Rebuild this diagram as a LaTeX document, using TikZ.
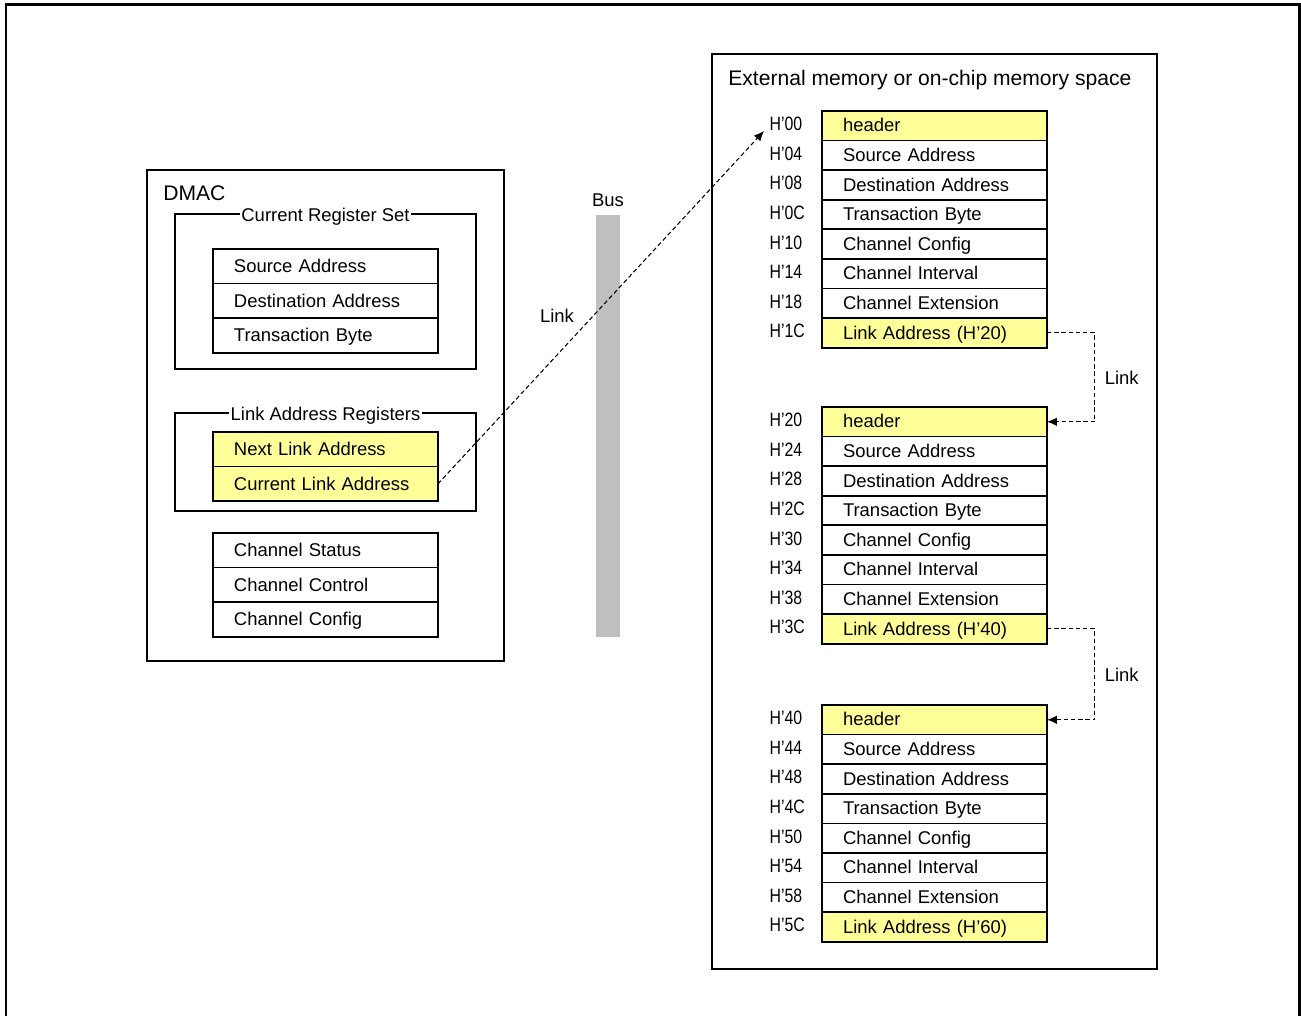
\documentclass[tikz,border=0pt]{standalone}
\usepackage{fontspec}
\setmainfont{Liberation Sans}
\newfontfamily\hexfont[FakeStretch=0.82]{Liberation Sans}
\usepackage{xcolor}
\usetikzlibrary{positioning, arrows.meta}
\definecolor{regyellow}{RGB}{255,255,153}

\begin{document}
\begin{tikzpicture}[
  x=0.02cm, y=-0.02cm,
  node distance=0pt,
  frame/.style={draw, line width=1pt, outer sep=0pt, inner sep=0pt},
  reg/.style={draw, line width=1pt, outer sep=0pt, inner xsep=0.42cm, inner ysep=0pt, text width=3.66cm, text height=7.8pt, text depth=0.8pt, minimum height=0.692cm, align=left, font=\fontsize{10.5}{12}\selectfont},
  mrow/.style={reg, minimum height=0.592cm},
  hl/.style={fill=regyellow},
  grptitle/.style={fill=white, inner sep=1pt, yshift=-1.5pt, font=\fontsize{10.5}{12}\selectfont},
  hex/.style={left=0.38cm of #1, yshift=1.2pt, inner sep=0pt, text width=0.66cm, align=left, text height=8pt, text depth=0pt, font=\hexfont\fontsize{11}{12}\selectfont},
  lbl/.style={font=\fontsize{10.5}{12}\selectfont},
  link/.style={dash pattern=on 2.5pt off 1.6pt, line width=0.6pt, -{Latex[length=2mm, width=1.7mm]}}
]
\useasboundingbox (0,0) rectangle (1301,1016);
\begin{scope}
\clip (0,0) rectangle (1301,1016);
\draw[line width=1.7pt] (6,1040) -- (6,5) -- (1299,5) -- (1299,1040);
\end{scope}

% DMAC side
\node[frame, minimum width=7.14cm, minimum height=9.82cm] (dmac) at (325.5,415.5) {};
\node[anchor=base west, inner sep=0pt, font=\fontsize{12}{14}\selectfont] (dmactitle) at (163,201) {DMAC};

\node[frame, minimum width=6.02cm, minimum height=3.1cm] (curset) at (325.5,291.5) {};
\node[grptitle] (curtitle) at (curset.north) {Current Register Set};
\node[reg, anchor=north west] (sa) at (213,249) {Source Address};
\node[reg, below=of sa] (da) {Destination Address};
\node[reg, below=of da] (tb) {Transaction Byte};

\node[frame, minimum width=6.02cm, minimum height=1.96cm] (linkset) at (325.5,462) {};
\node[grptitle] (linktitle) at (linkset.north) {Link Address Registers};
\node[reg, hl, anchor=north west] (nla) at (213,432) {Next Link Address};
\node[reg, hl, below=of nla] (cla) {Current Link Address};

\node[reg, anchor=north west] (cs) at (213,533) {Channel Status};
\node[reg, below=of cs] (cc) {Channel Control};
\node[reg, below=of cc] (cfg) {Channel Config};

% bus
\node[fill=gray!50, minimum width=0.48cm, minimum height=8.44cm, inner sep=0pt] (bus) at (608,426) {};
\node[lbl, above=0.03cm of bus] (buslbl) {Bus};
\node[lbl] (linklbl) at (557,316) {Link};

% memory side
\node[frame, minimum width=8.9cm, minimum height=18.3cm] (mem) at (934.5,511.5) {};
\node[anchor=base west, inner sep=0pt, font=\fontsize{12}{14}\selectfont] (memtitle) at (728,86) {External memory or on-chip memory space};

\node[mrow, hl, anchor=north west] (hdA) at (822,111) {header};
\node[mrow, below=of hdA] (saA) {Source Address};
\node[mrow, below=of saA] (daA) {Destination Address};
\node[mrow, below=of daA] (tbA) {Transaction Byte};
\node[mrow, below=of tbA] (ccA) {Channel Config};
\node[mrow, below=of ccA] (ciA) {Channel Interval};
\node[mrow, below=of ciA] (ceA) {Channel Extension};
\node[mrow, hl, below=of ceA] (laA) {Link Address (H’20)};

\node[hex=hdA] (hx00) {H’00};
\node[hex=saA] (hx04) {H’04};
\node[hex=daA] (hx08) {H’08};
\node[hex=tbA] (hx0C) {H’0C};
\node[hex=ccA] (hx10) {H’10};
\node[hex=ciA] (hx14) {H’14};
\node[hex=ceA] (hx18) {H’18};
\node[hex=laA] (hx1C) {H’1C};

\node[mrow, hl, anchor=north west] (hdB) at (822,407) {header};
\node[mrow, below=of hdB] (saB) {Source Address};
\node[mrow, below=of saB] (daB) {Destination Address};
\node[mrow, below=of daB] (tbB) {Transaction Byte};
\node[mrow, below=of tbB] (ccB) {Channel Config};
\node[mrow, below=of ccB] (ciB) {Channel Interval};
\node[mrow, below=of ciB] (ceB) {Channel Extension};
\node[mrow, hl, below=of ceB] (laB) {Link Address (H’40)};

\node[hex=hdB] (hx20) {H’20};
\node[hex=saB] (hx24) {H’24};
\node[hex=daB] (hx28) {H’28};
\node[hex=tbB] (hx2C) {H’2C};
\node[hex=ccB] (hx30) {H’30};
\node[hex=ciB] (hx34) {H’34};
\node[hex=ceB] (hx38) {H’38};
\node[hex=laB] (hx3C) {H’3C};

\node[mrow, hl, anchor=north west] (hdC) at (822,705) {header};
\node[mrow, below=of hdC] (saC) {Source Address};
\node[mrow, below=of saC] (daC) {Destination Address};
\node[mrow, below=of daC] (tbC) {Transaction Byte};
\node[mrow, below=of tbC] (ccC) {Channel Config};
\node[mrow, below=of ccC] (ciC) {Channel Interval};
\node[mrow, below=of ciC] (ceC) {Channel Extension};
\node[mrow, hl, below=of ceC] (laC) {Link Address (H’60)};

\node[hex=hdC] (hx40) {H’40};
\node[hex=saC] (hx44) {H’44};
\node[hex=daC] (hx48) {H’48};
\node[hex=tbC] (hx4C) {H’4C};
\node[hex=ccC] (hx50) {H’50};
\node[hex=ciC] (hx54) {H’54};
\node[hex=ceC] (hx58) {H’58};
\node[hex=laC] (hx5C) {H’5C};

% links
\coordinate (hdtip) at (764,131);
\draw[link] (cla.east) -- (hdtip);
\draw[link] (laA.east) -- ++(48,0) |- node[pos=0.25, right=2pt, lbl] (linkAB) {Link} (hdB.east);
\draw[link] (laB.east) -- ++(48,0) |- node[pos=0.25, right=2pt, lbl] (linkBC) {Link} (hdC.east);
\end{tikzpicture}
\end{document}
